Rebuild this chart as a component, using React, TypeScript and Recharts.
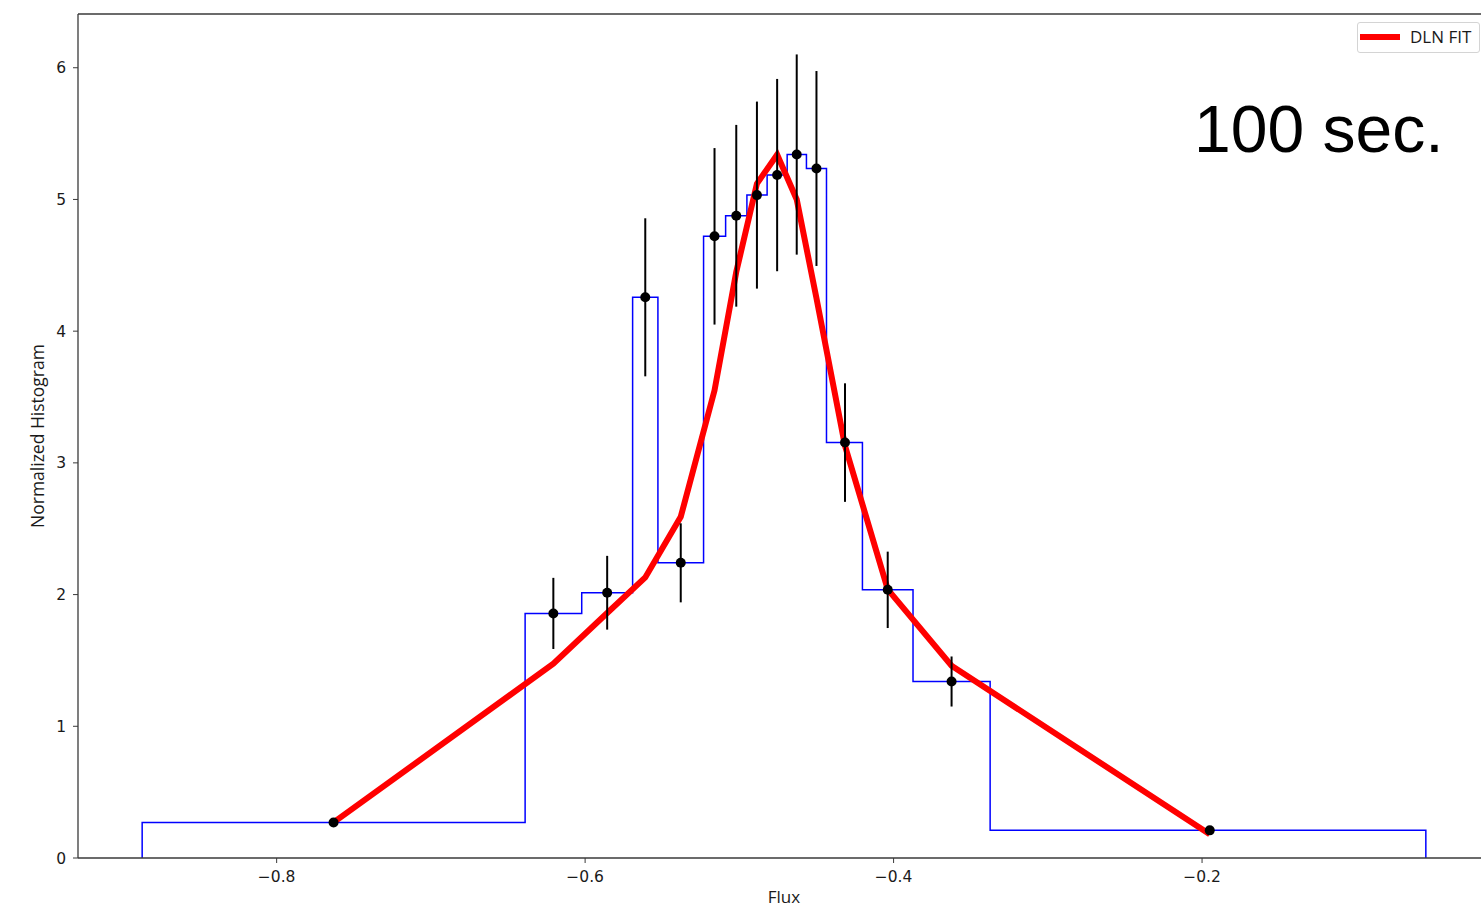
import React from 'react';
import {
  ComposedChart,
  Line,
  Scatter,
  ErrorBar,
  XAxis,
  YAxis,
  ReferenceLine,
} from 'recharts';

// histogram bin edges (Flux) and normalized heights
const binEdges = [
  -0.8872, -0.6389, -0.6022, -0.5692, -0.5528, -0.5232, -0.5089, -0.4951,
  -0.482, -0.469, -0.4565, -0.4435, -0.4202, -0.3874, -0.3374, -0.0549,
];
const binHeights = [
  0.27, 1.857, 2.014, 4.257, 2.241, 4.72, 4.876, 5.033, 5.185, 5.341, 5.235,
  3.154, 2.036, 1.34, 0.21,
];

// bin centres with error bars
const centers = [
  -0.7631, -0.6206, -0.5857, -0.561, -0.538, -0.5161, -0.502, -0.4886,
  -0.4755, -0.4628, -0.45, -0.4315, -0.4038, -0.3624, -0.195,
];
const errors = [0, 0.27, 0.28, 0.6, 0.3, 0.67, 0.69, 0.71, 0.73, 0.76, 0.74, 0.45, 0.29, 0.19, 0];

// DLN fit evaluated at the bin centres
const fitValues = [
  0.27, 1.475, 1.86, 2.13, 2.59, 3.55, 4.45, 5.12, 5.34, 5.0, 4.25, 3.13, 2.04,
  1.46, 0.18,
];

const xTicks = [-0.8, -0.6, -0.4, -0.2];
const yTicks = [0, 1, 2, 3, 4, 5, 6];

const X_DOMAIN: [number, number] = [-0.9288, -0.0133];
const Y_DOMAIN: [number, number] = [0, 6.408];

const TICK_FONT = '"DejaVu Sans", sans-serif';
const LABEL_FONT = '"Open Sans", sans-serif';
const SPINE = '#3a3a3a';
const INK = '#1a1a1a';

// outline of a step histogram: up at first edge, down at last edge
const histData = [
  { x: binEdges[0], y: 0 },
  ...binHeights.map((h, i) => ({ x: binEdges[i], y: h })),
  { x: binEdges[binEdges.length - 1], y: 0 },
];
const pointData = centers.map((c, i) => ({ x: c, y: binHeights[i], err: errors[i] }));
const fitData = centers.map((c, i) => ({ x: c, y: fitValues[i] }));

const fmt = (v: number) => (v < 0 ? '\u2212' + Math.abs(v).toFixed(1) : v.toFixed(1));

const Dot = (p: any) => <circle cx={p.cx} cy={p.cy} r={5} fill="#000" />;

export default function App() {
  return (
    <div
      style={{
        position: 'fixed',
        left: 0,
        top: 0,
        width: 1481,
        height: 908,
        overflow: 'hidden',
        background: '#fff',
      }}
    >
      <ComposedChart width={1490} height={908} margin={{ top: 14, right: 0, bottom: 0, left: 0 }}>
        <XAxis
          type="number"
          dataKey="x"
          domain={X_DOMAIN}
          allowDataOverflow
          ticks={xTicks}
          tickFormatter={fmt}
          height={50}
          tickSize={5}
          tickMargin={8}
          axisLine={{ stroke: SPINE, strokeWidth: 1.3 }}
          tickLine={{ stroke: SPINE }}
          tick={{ fill: INK, fontSize: 15.5, fontFamily: TICK_FONT }}
          label={{ value: 'Flux', position: 'insideBottom', offset: 5, fill: INK, fontSize: 17, fontFamily: LABEL_FONT }}
        />
        <YAxis
          type="number"
          dataKey="y"
          domain={Y_DOMAIN}
          allowDataOverflow
          ticks={yTicks}
          width={78}
          tickSize={5}
          tickMargin={7}
          axisLine={{ stroke: SPINE, strokeWidth: 1.3 }}
          tickLine={{ stroke: SPINE }}
          tick={{ fill: INK, fontSize: 15.5, fontFamily: TICK_FONT }}
          label={{
            value: 'Normalized Histogram',
            angle: -90,
            position: 'center',
            dx: -1,
            fill: INK,
            fontSize: 17.5,
            fontFamily: LABEL_FONT,
          }}
        />
        <ReferenceLine y={Y_DOMAIN[1]} stroke={SPINE} strokeWidth={1.3} />
        <Line
          data={histData}
          dataKey="y"
          type="stepAfter"
          stroke="#0000ff"
          strokeWidth={1.5}
          dot={false}
          isAnimationActive={false}
        />
        <Line
          data={fitData}
          dataKey="y"
          type="linear"
          stroke="#ff0000"
          strokeWidth={6}
          dot={false}
          isAnimationActive={false}
        />
        <Scatter data={pointData} dataKey="y" shape={Dot} isAnimationActive={false}>
          <ErrorBar dataKey="err" direction="y" width={0} stroke="#000" strokeWidth={2} />
        </Scatter>
      </ComposedChart>

      <div
        style={{
          position: 'absolute',
          left: 1357,
          top: 22,
          width: 123,
          height: 31,
          border: '1px solid #d4d4d4',
          borderRadius: 3,
          background: 'rgba(255,255,255,0.8)',
          boxSizing: 'border-box',
        }}
      >
        <div style={{ position: 'absolute', left: 2, top: 10.5, width: 40, height: 6, background: '#ff0000' }} />
        <div
          style={{
            position: 'absolute',
            left: 52,
            top: 3,
            fontSize: 17,
            lineHeight: '22px',
            fontFamily: LABEL_FONT,
            color: INK,
            whiteSpace: 'nowrap',
          }}
        >
          DLN FIT
        </div>
      </div>

      <svg width={1481} height={908} style={{ position: 'absolute', left: 0, top: 0, pointerEvents: 'none' }}>
        <text x={1194} y={152} fontSize={66} fontFamily='"Liberation Sans", Arial, sans-serif' fill="#000">
          100 sec.
        </text>
      </svg>
    </div>
  );
}
